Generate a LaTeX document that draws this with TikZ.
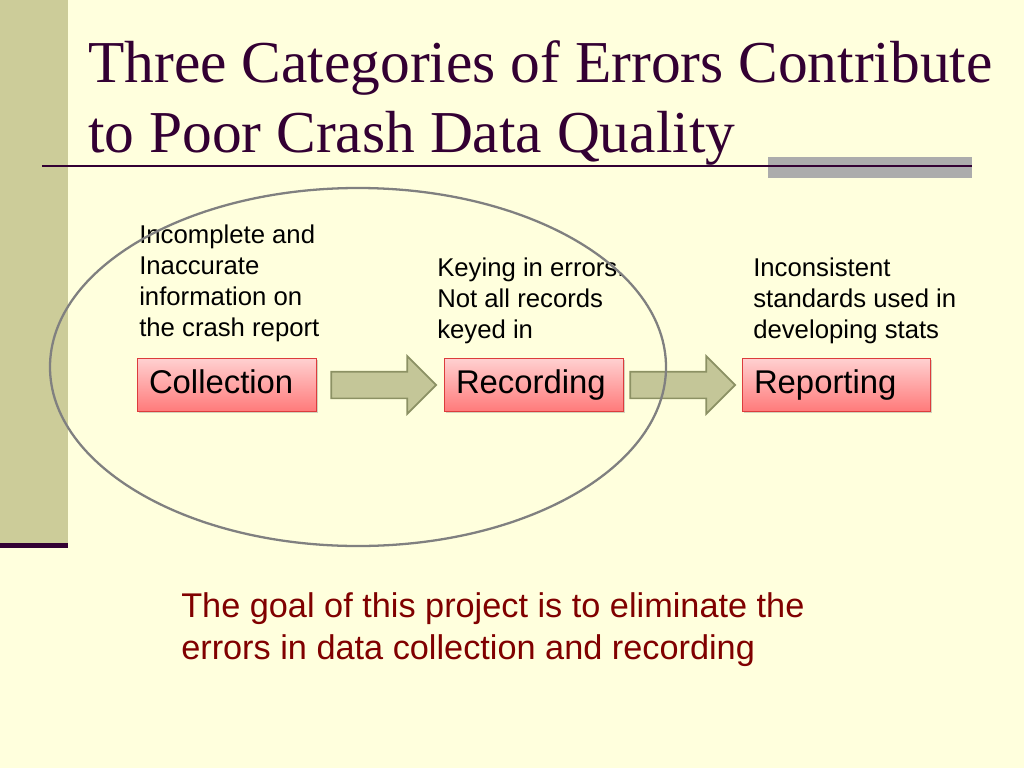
\documentclass[tikz,border=0pt]{standalone}
\usepackage{fontspec}
\setmainfont{Liberation Serif}
\setsansfont{Liberation Sans}
\usetikzlibrary{shapes.arrows,shadows}
\definecolor{slidebg}{RGB}{255,255,221}
\definecolor{sidebar}{RGB}{204,204,153}
\definecolor{plum}{RGB}{51,0,51}
\definecolor{boxline}{RGB}{220,60,60}
\definecolor{arrowfill}{RGB}{196,198,152}
\definecolor{arrowline}{RGB}{140,145,100}
\definecolor{goalred}{RGB}{128,0,0}
\begin{document}
\begin{tikzpicture}[x=0.7pt, y=-0.7pt,
    stage/.style={draw=boxline, top color=red!18, bottom color=red!52, drop shadow={opacity=0.35, shadow xshift=1.5pt, shadow yshift=-1.5pt}, minimum height=37.1pt, inner xsep=8.4pt, inner ysep=4pt, text height=16pt, text depth=4pt, align=left, font=\sffamily\fontsize{23}{27}\selectfont},
    note/.style={anchor=base west, inner sep=0pt, align=left, font=\sffamily\fontsize{18}{21.5}\selectfont},
    flow/.style={single arrow, draw=arrowline, fill=arrowfill, line width=1.2pt, minimum height=73.5pt, text height=17.5pt, text depth=0pt, single arrow head extend=10.85pt, inner sep=0pt}]
    \path[use as bounding box, fill=slidebg] (0,0) rectangle (1024,768);
    \fill[sidebar] (0,0) rectangle (68,545);
    \fill[plum] (0,543) rectangle (68,548);
    \fill[gray!65] (768,157) rectangle (972,178);
    \draw[plum, line width=2pt] (42,166) -- (972,166);
    
    \node[anchor=base west, inner sep=0pt, align=left, text=plum, font=\fontsize{41.6}{49}\selectfont] (title) at (88,152) {Three Categories of Errors Contribute\\to Poor Crash Data Quality};
    
    \node[stage, text width=108.5pt] (col) at (226.5,384.5) {Collection};
    \node[stage, text width=108.5pt] (rec) at (533.5,384.5) {Recording};
    \node[stage, text width=114.8pt] (rep) at (836,384.5) {Reporting};
    
    \node[flow] (f1) at (377,385) {};
    \node[flow] (f2) at (676,385) {};
    
    \node[note] (n1) at (139,336) {Incomplete and\\Inaccurate\\information on\\the crash report};
    \node[note] (n2) at (437,338) {Keying in errors.\\Not all records\\keyed in};
    \node[note] (n3) at (753,338) {Inconsistent\\standards used in\\developing stats};
    
    \draw[gray, line width=1.6pt] (358,367) ellipse [x radius=215.6pt, y radius=125.3pt];
    
    \node[note, text=goalred, font=\sffamily\fontsize{24}{29.4}\selectfont] (goal) at (181,659) {The goal of this project is to eliminate the\\errors in data collection and recording};
\end{tikzpicture}
\end{document}
